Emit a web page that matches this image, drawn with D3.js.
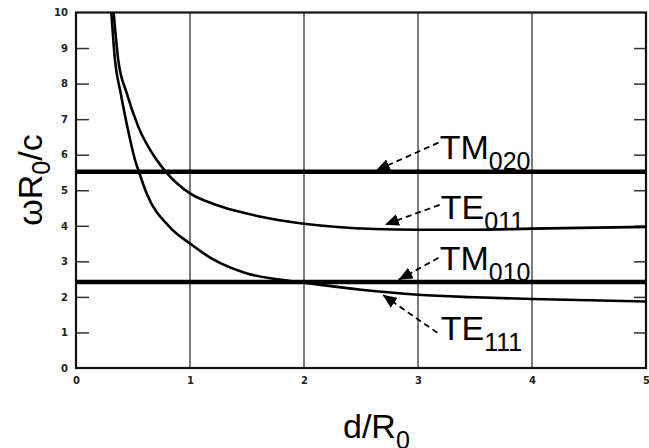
<!DOCTYPE html>
<html>
<head>
<meta charset="utf-8">
<script src="https://cdn.jsdelivr.net/npm/d3@7"></script>
<style>
  body { margin: 0; background: #fff; }
  svg { display: block; }
</style>
</head>
<body>
<div id="chart"></div>
<script>
// values (d/R0 -> omega R0 / c)
const xTicks = [0, 1, 2, 3, 4, 5];
const yTicks = [0, 1, 2, 3, 4, 5, 6, 7, 8, 9, 10];

const te111D = [0.31, 0.342, 0.392, 0.45, 0.518, 0.555, 0.62, 0.82, 1.0, 1.2, 1.5, 1.75, 2.0, 2.5, 3.0, 3.5, 4.0, 5.0];
const te111W = [10.0, 8.66, 7.73, 6.79, 5.85, 5.49, 4.91, 3.97, 3.50, 3.06, 2.66, 2.50, 2.40, 2.2, 2.06, 1.99, 1.94, 1.87];

const te011D = [0.33, 0.371, 0.445, 0.546, 0.708, 0.796, 1.0, 1.2, 1.4, 1.6, 2.0, 2.62, 3.0, 3.5, 4.0, 5.0];
const te011W = [10.0, 8.66, 7.73, 6.79, 5.85, 5.49, 4.91, 4.62, 4.42, 4.27, 4.06, 3.91, 3.89, 3.89, 3.92, 3.97];

const tm020W = 5.52;
const tm010W = 2.42;

// labels: name, subscript, text anchor, dashed arrow start and tip (data units)
const labelNames = ['TM', 'TE', 'TM', 'TE'];
const labelSubs = ['020', '011', '010', '111'];
const labelPos = [[3.19, 5.89], [3.20, 4.20], [3.19, 2.76], [3.20, 0.79]];
const arrowFrom = [[3.18, 6.34], [3.19, 4.59], [3.18, 3.10], [3.17, 0.99]];
const arrowTip = [[2.63, 5.55], [2.71, 4.03], [2.83, 2.48], [2.69, 2.06]];

const width = 649, height = 448;
const margin = { top: 12.5, right: 3, bottom: 80, left: 76 };

const svg = d3.select('#chart').append('svg')
    .attr('width', width)
    .attr('height', height);

const x = d3.scaleLinear().domain([0, 5]).range([margin.left, width - margin.right]);
const y = d3.scaleLinear().domain([0, 10]).range([height - margin.bottom, margin.top]);

svg.append('defs').append('clipPath').attr('id', 'plotClip')
  .append('rect')
    .attr('x', x(0)).attr('y', y(10))
    .attr('width', x(5) - x(0)).attr('height', y(0) - y(10));

svg.select('defs').append('marker')
    .attr('id', 'head')
    .attr('markerUnits', 'userSpaceOnUse')
    .attr('viewBox', '0 0 14 12')
    .attr('refX', 14).attr('refY', 6)
    .attr('markerWidth', 14).attr('markerHeight', 12)
    .attr('orient', 'auto')
  .append('path')
    .attr('d', 'M0,0 L14,6 L0,12 Z')
    .attr('fill', '#000');

// vertical grid lines
svg.append('g')
  .selectAll('line')
  .data(xTicks.filter(d => d > 0 && d < 5))
  .join('line')
    .attr('x1', d => x(d)).attr('x2', d => x(d))
    .attr('y1', y(10)).attr('y2', y(0))
    .attr('stroke', '#333')
    .attr('stroke-width', 1.3);

// inward ticks on both sides
const inner = yTicks.filter(d => d > 0 && d < 10);
svg.append('g').call(d3.axisRight(y).tickValues(inner).tickSize(13).tickFormat(''))
    .attr('transform', `translate(${x(0)},0)`)
    .call(g => g.select('.domain').remove())
    .selectAll('line').attr('stroke', '#333').attr('stroke-width', 1.5);
svg.append('g').call(d3.axisLeft(y).tickValues(inner).tickSize(12).tickFormat(''))
    .attr('transform', `translate(${x(5)},0)`)
    .call(g => g.select('.domain').remove())
    .selectAll('line').attr('stroke', '#333').attr('stroke-width', 1.5);

// tick labels
svg.append('g').call(d3.axisLeft(y).tickValues(yTicks).tickSize(0).tickPadding(8).tickFormat(d3.format('d')))
    .attr('transform', `translate(${x(0)},0)`)
    .call(g => g.select('.domain').remove())
    .selectAll('text')
    .style('font-family', '"DejaVu Sans", sans-serif')
    .style('font-size', '10px')
    .style('font-weight', 'bold')
    .attr('fill', '#222');
svg.append('g').call(d3.axisBottom(x).tickValues(xTicks).tickSize(0).tickPadding(9).tickFormat(d3.format('d')))
    .attr('transform', `translate(0,${y(0)})`)
    .call(g => g.select('.domain').remove())
    .selectAll('text')
    .style('font-family', '"DejaVu Sans", sans-serif')
    .style('font-size', '10px')
    .style('font-weight', 'bold')
    .attr('fill', '#222');

// frame
svg.append('rect')
    .attr('x', x(0)).attr('y', y(10))
    .attr('width', x(5) - x(0)).attr('height', y(0) - y(10))
    .attr('fill', 'none')
    .attr('stroke', '#111')
    .attr('stroke-width', 2.2);

// TM horizontal modes
svg.append('g')
  .selectAll('line')
  .data([tm020W, tm010W])
  .join('line')
    .attr('x1', x(0)).attr('x2', x(5))
    .attr('y1', d => y(d)).attr('y2', d => y(d))
    .attr('stroke', '#000')
    .attr('stroke-width', 4.5);

// TE curves
const line = d3.line().x(d => x(d[0])).y(d => y(d[1])).curve(d3.curveMonotoneX);
const curves = [d3.zip(te111D, te111W), d3.zip(te011D, te011W)];
svg.append('g')
    .attr('clip-path', 'url(#plotClip)')
  .selectAll('path')
  .data(curves)
  .join('path')
    .attr('d', line)
    .attr('fill', 'none')
    .attr('stroke', '#000')
    .attr('stroke-width', 2.6);

// annotations
const ann = svg.append('g');
ann.selectAll('line')
  .data(d3.range(labelNames.length))
  .join('line')
    .attr('x1', i => x(arrowFrom[i][0])).attr('y1', i => y(arrowFrom[i][1]))
    .attr('x2', i => x(arrowTip[i][0])).attr('y2', i => y(arrowTip[i][1]))
    .attr('stroke', '#000')
    .attr('stroke-width', 1.8)
    .attr('stroke-dasharray', '6,4')
    .attr('marker-end', 'url(#head)');

const lab = ann.selectAll('text')
  .data(d3.range(labelNames.length))
  .join('text')
    .attr('x', i => x(labelPos[i][0]))
    .attr('y', i => y(labelPos[i][1]))
    .style('font-family', '"Liberation Sans", Arial, sans-serif')
    .style('font-size', '34px')
    .attr('fill', '#000');
lab.append('tspan').text(i => labelNames[i]);
lab.append('tspan').text(i => labelSubs[i]).attr('dy', 11).style('font-size', '25px');

// axis titles
const xt = svg.append('text')
    .attr('x', 343).attr('y', 438)
    .style('font-family', '"Liberation Sans", Arial, sans-serif')
    .style('font-size', '34px')
    .attr('fill', '#000');
xt.append('tspan').text('d/R');
xt.append('tspan').text('0').attr('dy', 11).style('font-size', '25px');

const yt = svg.append('text')
    .attr('transform', 'translate(42,180) rotate(-90)')
    .attr('text-anchor', 'middle')
    .style('font-family', '"Liberation Sans", Arial, sans-serif')
    .style('font-size', '34px')
    .attr('fill', '#000');
yt.append('tspan').text('ωR');
yt.append('tspan').text('0').attr('dy', 8).style('font-size', '25px');
yt.append('tspan').text('/c').attr('dy', -8);
</script>
</body>
</html>
